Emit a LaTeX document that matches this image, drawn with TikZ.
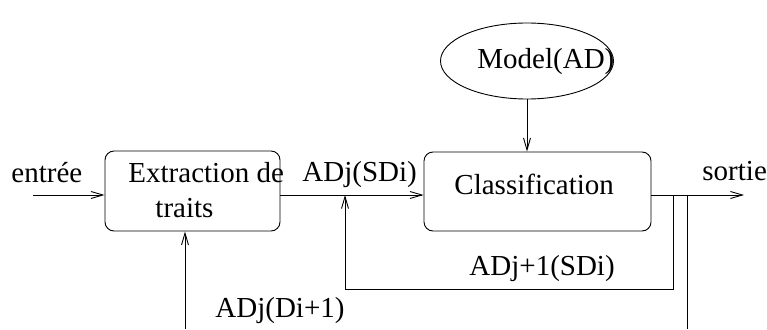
\documentclass[tikz,border=0pt]{standalone}
\usepackage{fontspec}
\setmainfont{Liberation Serif}
\usetikzlibrary{arrows.meta,shapes.geometric}
\begin{document}
\begin{tikzpicture}[x=1pt,y=-1pt,
  line width=0.9pt,
  >={Straight Barb[length=12pt,width=7pt,line width=0.9pt]},
  blockbox/.style={draw,rounded corners=9pt,inner sep=0pt},
  txt/.style={anchor=base west,inner sep=0pt,font=\fontsize{29}{34}\selectfont},
  conn/.style={->}]
\useasboundingbox (0,0) rectangle (767,329);
% boxes
\node[blockbox,minimum width=175pt,minimum height=80pt] (ext) at (192.5,191) {};
\node[blockbox,minimum width=227pt,minimum height=79pt] (cls) at (537.5,191.5) {};
\node[draw,ellipse,minimum width=173pt,minimum height=76pt,inner sep=0pt] (mod) at (527,61) {};
% texts
\node[txt] (tentree) at (11,182) {entrée};
\node[txt] (text1) at (128,182) {Extraction de};
\node[txt] (text2) at (155,217) {traits};
\node[txt] (tadj) at (302,181) {ADj(SDi)};
\node[txt] (tcls) at (454,194) {Classification};
\node[txt] (tsortie) at (702,180) {sortie};
\node[txt] (tadj1) at (469,275) {ADj+1(SDi)};
\node[txt] (tadjd) at (215,317) {ADj(Di+1)};
\node[txt] (tmod) at (477,68) {Model(AD)};
% coordinates
\coordinate (in) at (33,195);
\coordinate (out) at (744,195);
\coordinate (fb1) at (673,195);
\coordinate (fb2) at (673,289);
\coordinate (fb3) at (345,289);
\coordinate (fb4) at (345,195);
\coordinate (br1) at (687,195);
\coordinate (br2) at (687,329);
\coordinate (bot) at (185,329);
% connectors
\draw[conn] (in) -- (in -| ext.west);
\draw[conn] (ext.east |- in) -- (cls.west |- in);
\draw[conn] (cls.east |- in) -- (out);
\draw[conn] (fb1) -- (fb2) -- (fb3) -- (fb4);
\draw (br1) -- (br2);
\draw[conn] (bot) -- (bot |- ext.south);
\draw[conn] (mod.south) -- (mod.south |- cls.north);
\end{tikzpicture}
\end{document}
